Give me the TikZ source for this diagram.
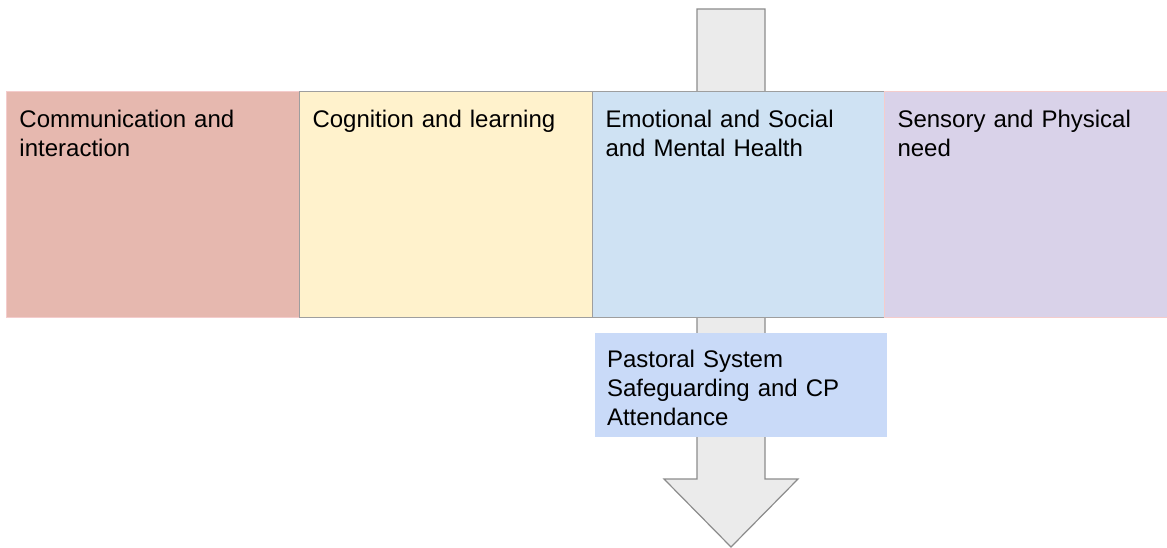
\documentclass[tikz,border=0pt]{standalone}
\usepackage{fontspec}
\setmainfont{Liberation Sans}
\usetikzlibrary{positioning}

\definecolor{commfill}{HTML}{E6B8AF}
\definecolor{cogfill}{HTML}{FFF2CC}
\definecolor{emofill}{HTML}{CFE2F3}
\definecolor{sensfill}{HTML}{D9D2E9}
\definecolor{pastfill}{HTML}{C9DAF8}
\definecolor{pinkline}{HTML}{F4CCCC}
\definecolor{greyline}{HTML}{9E9E9E}
\definecolor{arrowfill}{HTML}{EBEBEB}
\definecolor{arrowline}{HTML}{8C8C8C}

\begin{document}
\begin{tikzpicture}[x=1pt, y=-1pt]
    \tikzstyle{block} = [rectangle, anchor=north west, align=left, inner ysep=0pt, inner xsep=13pt,
      line width=1pt, font=\fontsize{24}{28.8}\selectfont];
    \tikzstyle{need} = [block, text height=36pt, text depth=190pt];
    \useasboundingbox (0,0) rectangle (1167,548);
    % the big grey arrow behind the row
    \coordinate (top) at (731,9);
    \coordinate (tip) at (731,547);
    \draw [fill=arrowfill, draw=arrowline, line width=1.2pt, line join=miter]
      (697,9) -- (765,9) -- (765,479) -- (798,479) -- (tip) -- (664,479) -- (697,479) -- cycle;
    \node [need, fill=commfill, draw=pinkline, text width=267pt] (comm) at (6,91) {Communication and\\interaction};
    \node [need, fill=cogfill, draw=greyline, text width=267pt] (cog) at (299,91) {Cognition and learning};
    \node [need, fill=emofill, draw=greyline, text width=266pt] (emo) at (592,91) {Emotional and Social\\and Mental Health};
    \node [need, fill=sensfill, draw=pinkline, text width=257pt] (sens) at (884,91) {Sensory and Physical\\need};
    \node [block, fill=pastfill, inner xsep=12.5pt, text height=35pt, text depth=69pt, text width=267pt]
      (past) at (594,332) {Pastoral System\\Safeguarding and CP\\Attendance};
\end{tikzpicture}
\end{document}
